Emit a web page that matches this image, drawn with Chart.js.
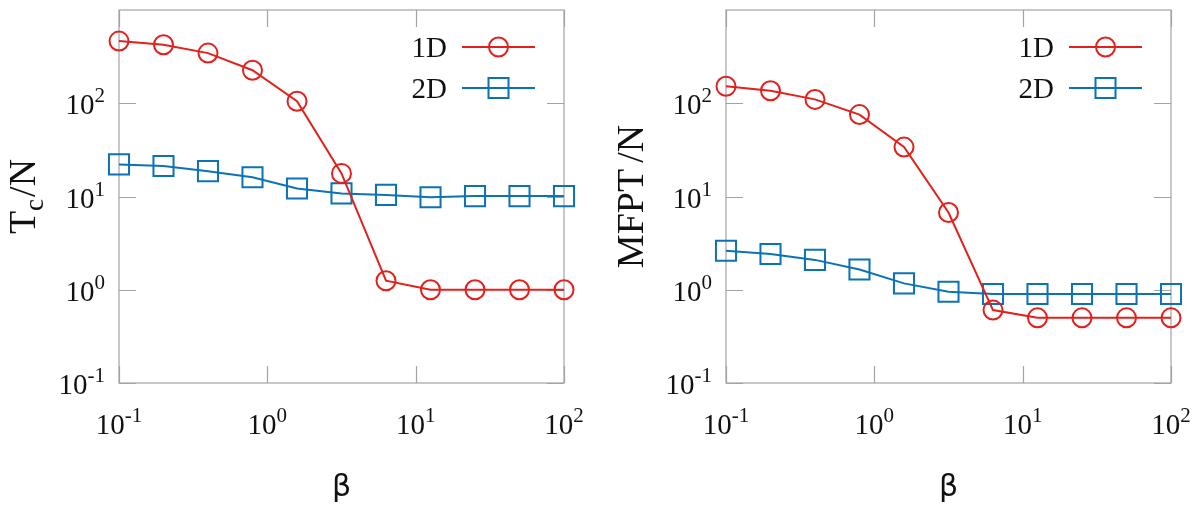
<!DOCTYPE html>
<html>
<head>
<meta charset="utf-8">
<script src="https://cdn.jsdelivr.net/npm/chart.js@4/dist/chart.umd.min.js"></script>
<style>
  html, body { margin: 0; padding: 0; background: #fff; }
  #wrap { position: relative; width: 1201px; height: 506px; }
  canvas { position: absolute; top: 0; }
  #left { left: 0; }
  #right { left: 600px; }
</style>
</head>
<body>
<div id="wrap">
  <canvas id="left" width="600" height="506"></canvas>
  <canvas id="right" width="601" height="506"></canvas>
</div>
<script>
// β values (log-spaced, 0.3 decade steps)
const beta = [0.1, 0.1995, 0.398, 0.794, 1.585, 3.162, 6.31, 12.59, 25.12, 50.12, 100];

// Tc/N
const tc1D = [464, 424, 345, 226, 105, 17.7, 1.25, 1.0, 1.0, 1.0, 1.0];
const tc2D = [22.1, 21.2, 18.7, 16.1, 12.2, 10.8, 10.4, 9.8, 10.1, 10.1, 10.1];

// MFPT/N
const mfpt1D = [152, 136, 110, 75.6, 33.9, 6.73, 0.605, 0.5, 0.5, 0.5, 0.5];
const mfpt2D = [2.62, 2.42, 2.09, 1.65, 1.17, 0.95, 0.9, 0.9, 0.9, 0.9, 0.9];

// decade exponents used for ticks
const xExps = [-1, 0, 1, 2];
const yExps = [-1, 0, 1, 2];

const seriesNames = ['1D', '2D'];
const RED = '#e3201b';
const BLUE = '#0b72b5';
const AXIS = '#a3a3a3';
const SERIF = '"Liberation Serif", "DejaVu Serif", serif';

function pts(xs, ys) { return xs.map((x, i) => ({ x: x, y: ys[i] })); }

function drawPow(ctx, x, y, exp, align) {
  const base = '10', sup = String(exp);
  ctx.font = '29px ' + SERIF;
  const wb = ctx.measureText(base).width;
  ctx.font = '21px ' + SERIF;
  const ws = ctx.measureText(sup).width;
  const total = wb + ws;
  let x0 = align === 'center' ? x - total / 2 : x - total;
  ctx.fillStyle = '#111';
  ctx.textAlign = 'left';
  ctx.textBaseline = 'alphabetic';
  ctx.font = '29px ' + SERIF;
  ctx.fillText(base, x0, y);
  ctx.font = '21px ' + SERIF;
  ctx.fillText(sup, x0 + wb, y - 12);
}

function drawMarker(ctx, style, x, y, color) {
  ctx.strokeStyle = color;
  ctx.lineWidth = 2;
  ctx.beginPath();
  if (style === 'circle') {
    ctx.arc(x, y, 9.5, 0, Math.PI * 2);
  } else {
    ctx.rect(x - 10, y - 10, 20, 20);
  }
  ctx.stroke();
}

function framePlugin(yTitleParts, titleBaselineX) {
  return {
    id: 'frame',
    beforeDatasetsDraw(chart) {
      const ctx = chart.ctx, a = chart.chartArea;
      const xs = chart.scales.x, ys = chart.scales.y;
      ctx.save();
      ctx.strokeStyle = AXIS;
      ctx.lineWidth = 1.2;
      ctx.strokeRect(a.left, a.top, a.right - a.left, a.bottom - a.top);
      const L = 17;
      ctx.beginPath();
      xExps.forEach(e => {
        const px = Math.round(xs.getPixelForValue(Math.pow(10, e))) + 0.5;
        ctx.moveTo(px, a.bottom); ctx.lineTo(px, a.bottom - L);
        ctx.moveTo(px, a.top); ctx.lineTo(px, a.top + L);
      });
      yExps.forEach(e => {
        const py = Math.round(ys.getPixelForValue(Math.pow(10, e))) + 0.5;
        ctx.moveTo(a.left, py); ctx.lineTo(a.left + L, py);
        ctx.moveTo(a.right, py); ctx.lineTo(a.right - L, py);
      });
      ctx.stroke();
      ctx.restore();
    },
    afterDraw(chart) {
      const ctx = chart.ctx, a = chart.chartArea;
      const xs = chart.scales.x, ys = chart.scales.y;
      ctx.save();
      // tick labels
      xExps.forEach(e => {
        drawPow(ctx, xs.getPixelForValue(Math.pow(10, e)), 434, e, 'center');
      });
      yExps.forEach(e => {
        drawPow(ctx, a.left - 14, ys.getPixelForValue(Math.pow(10, e)) + 11, e, 'right');
      });
      // x title
      ctx.fillStyle = '#111';
      ctx.font = '30px "DejaVu Sans", sans-serif';
      ctx.textAlign = 'center';
      ctx.textBaseline = 'alphabetic';
      ctx.fillText('β', (a.left + a.right) / 2, 496);
      // y title (rotated, with optional subscript)
      ctx.save();
      ctx.translate(titleBaselineX, (a.top + a.bottom) / 2);
      ctx.rotate(-Math.PI / 2);
      let total = 0;
      yTitleParts.forEach(p => {
        ctx.font = p.size + 'px ' + SERIF;
        total += ctx.measureText(p.t).width + (p.gap || 0);
      });
      let cx = -total / 2;
      ctx.textAlign = 'left';
      yTitleParts.forEach(p => {
        ctx.font = p.size + 'px ' + SERIF;
        ctx.fillText(p.t, cx, p.dy || 0);
        cx += ctx.measureText(p.t).width + (p.gap || 0);
      });
      ctx.restore();
      // legend
      const rows = [
        { name: seriesNames[0], color: RED, style: 'circle', y: 47 },
        { name: seriesNames[1], color: BLUE, style: 'rect', y: 88 }
      ];
      rows.forEach(r => {
        ctx.fillStyle = '#111';
        ctx.font = '29px ' + SERIF;
        ctx.textAlign = 'right';
        ctx.textBaseline = 'alphabetic';
        ctx.fillText(r.name, a.right - 117, r.y + 10);
        ctx.strokeStyle = r.color;
        ctx.lineWidth = 2;
        ctx.beginPath();
        ctx.moveTo(a.right - 102, r.y);
        ctx.lineTo(a.right - 29, r.y);
        ctx.stroke();
        drawMarker(ctx, r.style, a.right - 65.5, r.y, r.color);
      });
      ctx.restore();
    }
  };
}

function makeChart(id, y1, y2, padding, titleParts, titleX) {
  return new Chart(document.getElementById(id), {
    type: 'line',
    data: {
      datasets: [
        {
          label: seriesNames[0], data: pts(beta, y1),
          borderColor: RED, borderWidth: 2,
          pointStyle: 'circle', pointRadius: 9.5, pointBorderWidth: 2,
          pointBorderColor: RED, pointBackgroundColor: 'rgba(0,0,0,0)',
          tension: 0, clip: false
        },
        {
          label: seriesNames[1], data: pts(beta, y2),
          borderColor: BLUE, borderWidth: 2,
          pointStyle: 'rect', pointRadius: 14.2, pointBorderWidth: 2,
          pointBorderColor: BLUE, pointBackgroundColor: 'rgba(0,0,0,0)',
          tension: 0, clip: false
        }
      ]
    },
    options: {
      responsive: false,
      animation: false,
      devicePixelRatio: 1,
      layout: { padding: padding, autoPadding: false },
      plugins: { legend: { display: false }, tooltip: { enabled: false } },
      scales: {
        x: { type: 'logarithmic', min: 0.1, max: 100, display: false },
        y: { type: 'logarithmic', min: 0.1, max: 1000, display: false }
      }
    },
    plugins: [framePlugin(titleParts, titleX)]
  });
}

makeChart('left', tc1D, tc2D,
  { left: 119, right: 36, top: 10, bottom: 123 },
  [{ t: 'T', size: 38 }, { t: 'c', size: 27, dy: 8, gap: 2 }, { t: '/N', size: 38 }],
  35);

makeChart('right', mfpt1D, mfpt2D,
  { left: 126, right: 30, top: 10, bottom: 123 },
  [{ t: 'MFPT', size: 38, gap: 6 }, { t: '/N', size: 38 }],
  43);
</script>
</body>
</html>
